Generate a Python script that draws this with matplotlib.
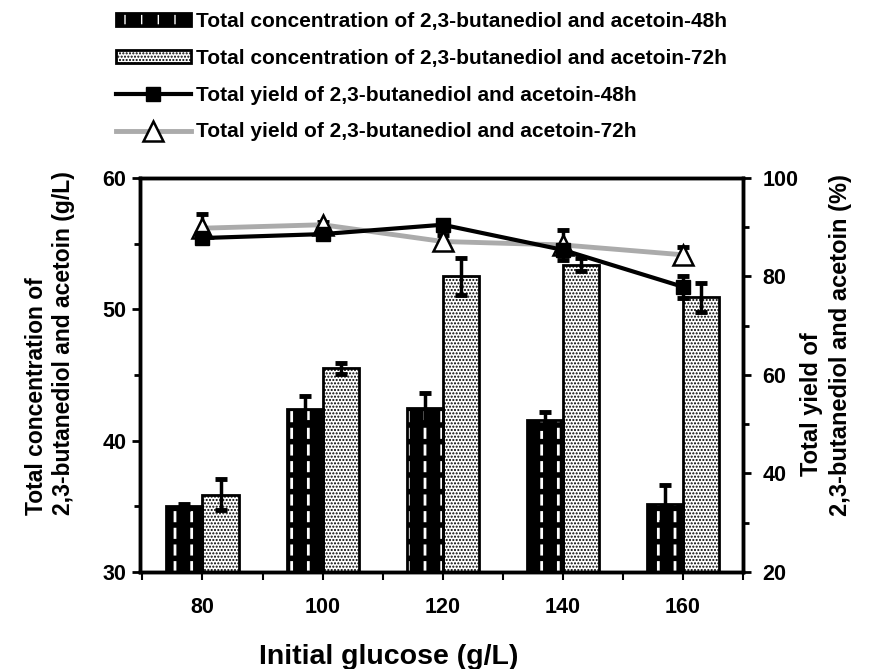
import matplotlib
matplotlib.use("Agg")
import matplotlib.pyplot as plt
from matplotlib.patches import Rectangle
from matplotlib.legend_handler import HandlerTuple

plt.rcParams['font.family'] = ['Liberation Sans', 'DejaVu Sans']
plt.rcParams['font.weight'] = 'bold'

# ---------------- data ----------------
glucose = [80, 100, 120, 140, 160]
conc_48 = [35.0, 42.4, 42.5, 41.6, 35.2]
conc_48_err = [0.2, 1.0, 1.1, 0.6, 1.4]
conc_72 = [35.9, 45.5, 52.5, 53.4, 50.9]
conc_72_err = [1.2, 0.4, 1.4, 0.5, 1.1]
yield_48 = [87.8, 88.6, 90.5, 85.4, 77.9]
yield_48_err = [0.6, 0.5, 0.5, 1.0, 2.2]
yield_72 = [89.8, 90.5, 87.1, 86.4, 84.4]
yield_72_err = [2.9, 0.6, 1.3, 3.0, 1.6]

labels = ["Total concentration of 2,3-butanediol and acetoin-48h",
          "Total concentration of 2,3-butanediol and acetoin-72h",
          "Total yield of 2,3-butanediol and acetoin-48h",
          "Total yield of 2,3-butanediol and acetoin-72h"]

bar_w = 6

fig = plt.figure(figsize=(8.72, 6.69), dpi=100)
ax = fig.add_axes([0.1606, 0.145, 0.6914, 0.589])
ax2 = ax.twinx()

x48 = [g - bar_w / 2 for g in glucose]
x72 = [g + bar_w / 2 for g in glucose]

# 48h bars: black with white vertical dashes
with plt.rc_context({'hatch.linewidth': 2.0}):
    ax.bar(x48, conc_48, width=bar_w, facecolor='black',
           edgecolor='white', hatch='|', linewidth=0, zorder=2)
with plt.rc_context({'hatch.linewidth': 4.0}):
    ax.bar(x48, conc_48, width=bar_w, fill=False,
           edgecolor='black', hatch='-', linewidth=2, zorder=3)
# 72h bars: dotted grey
with plt.rc_context({'hatch.linewidth': 1.0}):
    ax.bar(x72, conc_72, width=bar_w, facecolor='white',
           edgecolor='black', hatch='.....', linewidth=2, zorder=2)

ax.errorbar(x48, conc_48, yerr=conc_48_err, fmt='none', ecolor='black',
            elinewidth=2.5, capsize=4.5, capthick=3.5, zorder=4)
ax.errorbar(x72, conc_72, yerr=conc_72_err, fmt='none', ecolor='black',
            elinewidth=2.5, capsize=4.5, capthick=3.5, zorder=4)

# yield lines
ax2.errorbar(glucose, yield_72, yerr=yield_72_err, fmt='none', ecolor='black',
             elinewidth=2.5, capsize=4.5, capthick=3.5, zorder=2)
l72, = ax2.plot(glucose, yield_72, color='#ababab', lw=3.5, marker='^',
                markersize=14, markerfacecolor='white', markeredgecolor='black',
                markeredgewidth=1.8, zorder=3)
ax2.errorbar(glucose, yield_48, yerr=yield_48_err, fmt='none', ecolor='black',
             elinewidth=2.5, capsize=4.5, capthick=3.5, zorder=4)
l48, = ax2.plot(glucose, yield_48, color='black', lw=3, marker='s',
                markersize=10.5, markerfacecolor='black', markeredgecolor='black',
                zorder=5)

ax.set_xlim(69.6, 170)
ax.set_ylim(30, 60)
ax2.set_ylim(20, 100)

ax.set_xticks(glucose)
ax.set_xticks([70, 90, 110, 130, 150, 170], minor=True)
ax.set_yticks([30, 40, 50, 60])
ax.set_yticks([35, 45, 55], minor=True)
ax2.set_yticks([20, 40, 60, 80, 100])
ax2.set_yticks([30, 50, 70, 90], minor=True)

for a in (ax, ax2):
    for s in a.spines.values():
        s.set_linewidth(2.5)
ax.tick_params(axis='x', which='both', direction='out', length=6, width=1.5,
               labelsize=15.5, pad=12)
ax.tick_params(axis='y', which='major', direction='out', length=6, width=2,
               labelsize=15.5, pad=4)
ax.tick_params(axis='y', which='minor', direction='out', length=4, width=2)
ax2.tick_params(axis='y', which='major', direction='out', length=6, width=2,
                labelsize=15.5, pad=8)
ax2.tick_params(axis='y', which='minor', direction='out', length=4, width=2)

ax.set_xlabel("Initial glucose (g/L)", fontsize=20.5, fontweight='bold')
ax.xaxis.set_label_coords(0.413, -0.183)
ax.set_ylabel("Total concentration of\n2,3-butanediol and acetoin (g/L)",
              fontsize=16.5, fontweight='bold', multialignment='left')
ax.yaxis.set_label_coords(-0.108, 0.58)

# right axis title (two lines, as placed in the original)
ax2.text(1.114, 0.425, "Total yield of", transform=ax2.transAxes,
         rotation=90, fontsize=17, fontweight='bold', ha='center', va='center')
ax2.text(1.161, 0.575, "2,3-butanediol and acetoin (%)", transform=ax2.transAxes,
         rotation=90, fontsize=17, fontweight='bold', ha='center', va='center')

# legend
with plt.rc_context({'hatch.linewidth': 2.0}):
    h48a = Rectangle((0, 0), 1, 1, facecolor='black', edgecolor='white',
                     hatch='|', linewidth=0)
with plt.rc_context({'hatch.linewidth': 4.0}):
    h48b = Rectangle((0, 0), 1, 1, fill=False, edgecolor='black',
                     hatch='-', linewidth=2)
with plt.rc_context({'hatch.linewidth': 1.0}):
    h72 = Rectangle((0, 0), 1, 1, facecolor='white', edgecolor='black',
                    hatch='.....', linewidth=2)

fig.legend([(h48a, h48b), h72, l48, l72], labels,
           handler_map={tuple: HandlerTuple(ndivide=1)},
           loc='upper left', bbox_to_anchor=(0.123, 0.995), frameon=False,
           prop={'weight': 'bold', 'size': 15}, handlelength=3.6,
           handleheight=0.55, handletextpad=0.25, labelspacing=0.86,
           numpoints=1, borderaxespad=0.0)

fig.savefig("out.png", dpi=100)
